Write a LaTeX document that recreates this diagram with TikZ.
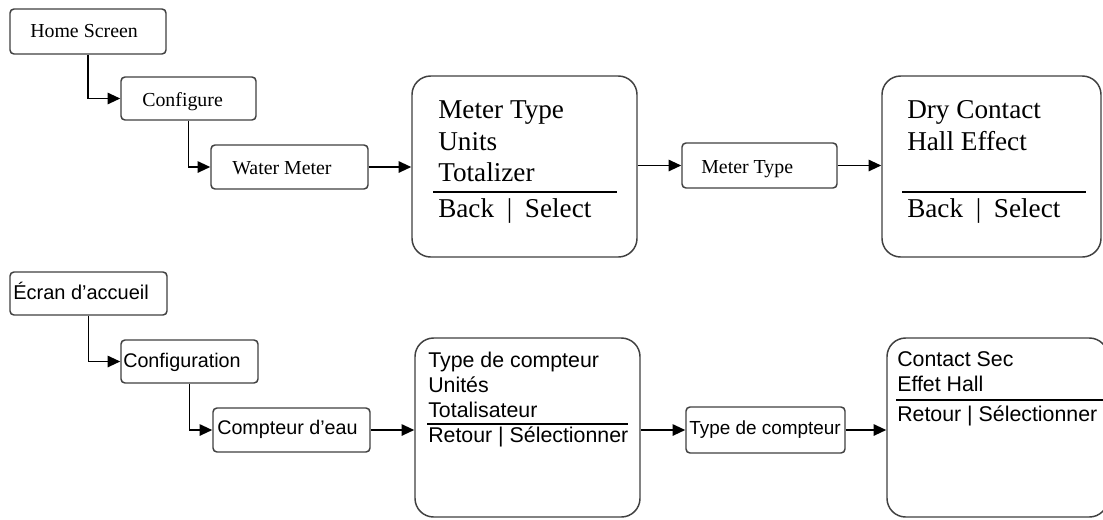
\documentclass[tikz,border=0pt]{standalone}
\usepackage{fontspec}
\setmainfont{Liberation Serif}
\newfontfamily\arialf{Liberation Sans}
\usetikzlibrary{fit,arrows.meta}
\begin{document}
\begin{tikzpicture}[x=0.75pt,y=-0.75pt,
  box/.style={draw=black!75, line width=1.1pt, fill=white, rounded corners=3pt, inner sep=0pt},
  bigbox/.style={draw=black!75, line width=1.1pt, fill=white, rounded corners=14pt, inner sep=0pt},
  conn/.style={line width=1.4pt, -{Triangle[length=9.5pt,width=8.5pt]}},
  sepline/.style={line width=2.2pt},
  septhin/.style={line width=1.6pt},
  tsmall/.style={font=\fontsize{14.9pt}{17pt}\selectfont, anchor=base west, inner sep=0pt},
  tbig/.style={font=\fontsize{20.4pt}{24pt}\selectfont, anchor=base west, inner sep=0pt},
  asmall/.style={font=\arialf\fontsize{14.8pt}{17pt}\selectfont, anchor=base west, inner sep=0pt},
  abig/.style={font=\arialf\fontsize{16pt}{18pt}\selectfont, anchor=base west, inner sep=0pt}
]
\useasboundingbox (0,0) rectangle (1103,519);
\fill[white] (0,0) rectangle (1103,519);

% ---------- top row (English) ----------
\node[box, fit={(10,9) (166,54)}] (home) {};
\node[box, fit={(121,77) (256,120)}] (conf) {};
\node[box, fit={(211,145) (368,189)}] (water) {};
\node[bigbox, fit={(412,76) (637,257)}] (big1) {};
\node[box, fit={(682,143) (837,188)}] (mtype) {};
\node[bigbox, fit={(882,76) (1101,257)}] (big2) {};

\node[tsmall] (thome) at (30,37.5) {Home Screen};
\node[tsmall] (tconf) at (142,106) {Configure};
\node[tsmall] (twater) at (232,174) {Water Meter};
\node[tsmall] (tmtype) at (701,173) {Meter Type};

\node[tbig] (b1a) at (438,118) {Meter Type};
\node[tbig] (b1b) at (438,150) {Units};
\node[tbig] (b1c) at (438,181) {Totalizer};
\draw[sepline] (433,192) -- (617,192);
\node[tbig] (b1d) at (438,217) {Back\hspace{9.5pt}|\hspace{9.5pt}Select};

\node[tbig] (b2a) at (907,118) {Dry Contact};
\node[tbig] (b2b) at (907,150) {Hall Effect};
\draw[sepline] (902,192) -- (1086,192);
\node[tbig] (b2d) at (907,217) {Back\hspace{9.5pt}|\hspace{9.5pt}Select};

\draw[conn] (home.south) |- (conf.west);
\draw[conn] (conf.south) |- (water.west);
\draw[conn] (water.east) -- (water.east -| big1.west);
\draw[conn] (big1.east |- mtype.west) -- (mtype.west);
\draw[conn] (mtype.east) -- (mtype.east -| big2.west);

% ---------- bottom row (French) ----------
\node[box, fit={(10,272) (167,315)}] (ecran) {};
\node[box, fit={(121,340) (258,383)}] (config) {};
\node[box, fit={(213,408) (370,452)}] (compteur) {};
\node[bigbox, fit={(415,338) (640,517)}] (big3) {};
\node[box, fit={(686,407) (845,453)}] (ttype) {};
\node[bigbox, fit={(887,338) (1108,517)}] (big4) {};

\node[font=\arialf\fontsize{15pt}{17pt}\selectfont, anchor=base west, inner sep=0pt] (tecran) at (13,299) {Écran d’accueil};
\node[asmall] (tconfig) at (123,367) {Configuration};
\node[asmall] (tcompteur) at (217,434) {Compteur d’eau};
\node[font=\arialf\fontsize{14.2pt}{16pt}\selectfont, anchor=base west, inner sep=0pt] (tttype) at (689,434) {Type de compteur};

\node[abig] (b3a) at (428,367) {Type de compteur};
\node[abig] (b3b) at (428,392) {Unités};
\node[abig] (b3c) at (428,417) {Totalisateur};
\draw[septhin] (427,424) -- (628,424);
\node[abig] (b3d) at (428,442) {Retour | Sélectionner};

\node[abig] (b4a) at (897,366) {Contact Sec};
\node[abig] (b4b) at (897,391) {Effet Hall};
\draw[septhin] (896,400) -- (1103,400);
\node[abig] (b4d) at (897,421) {Retour | Sélectionner};

\draw[conn] (ecran.south) |- (config.west);
\draw[conn] (config.south) |- (compteur.west);
\draw[conn] (compteur.east) -- (compteur.east -| big3.west);
\draw[conn] (big3.east |- ttype.west) -- (ttype.west);
\draw[conn] (ttype.east) -- (ttype.east -| big4.west);
\end{tikzpicture}
\end{document}
